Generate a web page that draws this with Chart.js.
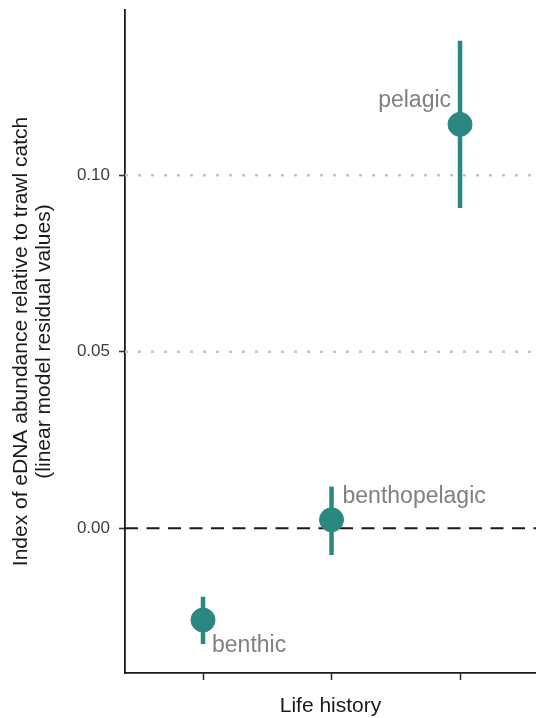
<!DOCTYPE html>
<html>
<head>
<meta charset="utf-8">
<script src="https://cdn.jsdelivr.net/npm/chart.js@4"></script>
<style>
  body { margin: 0; background: #fff; }
  canvas { display: block; }
</style>
</head>
<body>
<canvas id="grafico" width="536" height="718"></canvas>
<script>
const lifeHistory = ['benthic', 'benthopelagic', 'pelagic'];
const estimate = [-0.0260, 0.0024, 0.1144];
const lower = [-0.0328, -0.0076, 0.0907];
const upper = [-0.0194, 0.0118, 0.1381];
const yTicks = [0.00, 0.05, 0.10];

const teal = 'rgb(42,135,129)';
const fontFam = '"Liberation Sans", Arial, sans-serif';

// pixel offsets for the text next to each point
const labelPos = {
    benthic: { dx: 9, dy: 32, align: 'left' },
    benthopelagic: { dx: 11, dy: -17, align: 'left' },
    pelagic: { dx: -9, dy: -17, align: 'right' }
};

// reference lines + error bars under the points
const extras = {
    id: 'extras',
    beforeDatasetsDraw(chart) {
        const { ctx, chartArea: a, scales: { x, y } } = chart;
        ctx.save();
        yTicks.forEach(v => {
            const py = y.getPixelForValue(v);
            ctx.beginPath();
            if (v === 0) {
                ctx.setLineDash([13, 8.5]);
                ctx.strokeStyle = '#1a1a1a';
                ctx.lineWidth = 2.2;
            } else {
                ctx.setLineDash([3, 10]);
                ctx.strokeStyle = '#c4c4c4';
                ctx.lineWidth = 2.5;
            }
            ctx.moveTo(a.left, py);
            ctx.lineTo(a.right, py);
            ctx.stroke();
        });
        ctx.setLineDash([]);
        ctx.strokeStyle = teal;
        ctx.lineWidth = 4.5;
        lifeHistory.forEach((c, i) => {
            const px = x.getPixelForValue(i + 1);
            ctx.beginPath();
            ctx.moveTo(px, y.getPixelForValue(lower[i]));
            ctx.lineTo(px, y.getPixelForValue(upper[i]));
            ctx.stroke();
        });
        ctx.restore();
    },
    afterDatasetsDraw(chart) {
        const { ctx, scales: { x, y } } = chart;
        ctx.save();
        ctx.font = '23px ' + fontFam;
        ctx.fillStyle = '#808080';
        ctx.textBaseline = 'alphabetic';
        lifeHistory.forEach((c, i) => {
            const p = labelPos[c];
            ctx.textAlign = p.align;
            ctx.fillText(c, x.getPixelForValue(i + 1) + p.dx, y.getPixelForValue(estimate[i]) + p.dy);
        });
        ctx.restore();
    }
};

new Chart(document.getElementById('grafico'), {
    type: 'scatter',
    data: {
        datasets: [{
            data: lifeHistory.map((c, i) => ({ x: i + 1, y: estimate[i] })),
            backgroundColor: teal,
            borderColor: teal,
            pointRadius: 12,
            pointHoverRadius: 12
        }]
    },
    options: {
        responsive: false,
        animation: false,
        layout: { autoPadding: false, padding: { top: 10, right: 0, bottom: 0, left: 0 } },
        plugins: { legend: { display: false }, tooltip: { enabled: false } },
        scales: {
            x: {
                type: 'linear',
                min: 0.393,
                max: 3.591,
                afterBuildTicks: s => { s.ticks = [1, 2, 3].map(v => ({ value: v })); },
                afterFit: s => { s.height = 45; s.paddingLeft = 0; s.paddingRight = 0; },
                ticks: { callback: () => '', padding: 0 },
                grid: { drawOnChartArea: false, tickLength: 7, tickWidth: 1.6, tickColor: '#333' },
                border: { color: '#1a1a1a', width: 1.8 },
                title: {
                    display: true,
                    text: 'Life history',
                    color: '#1a1a1a',
                    font: { family: fontFam, size: 21, lineHeight: 1.1 },
                    padding: { top: 0, bottom: 0.5 }
                }
            },
            y: {
                min: -0.041,
                max: 0.1468,
                afterBuildTicks: s => { s.ticks = yTicks.map(v => ({ value: v })); },
                afterFit: s => { s.width = 125; s.paddingTop = 0; s.paddingBottom = 0; },
                ticks: {
                    callback: v => v.toFixed(2),
                    color: '#3d3d3d',
                    font: { family: fontFam, size: 17 },
                    padding: 9
                },
                grid: { drawOnChartArea: false, tickLength: 6, tickWidth: 1.6, tickColor: '#333' },
                border: { color: '#1a1a1a', width: 1.8 },
                title: {
                    display: true,
                    text: ['Index of eDNA abundance relative to trawl catch', '(linear model residual values)'],
                    color: '#1a1a1a',
                    font: { family: fontFam, size: 21, lineHeight: 1.1 },
                    padding: { top: 10, bottom: 0 }
                }
            }
        }
    },
    plugins: [extras]
});
</script>
</body>
</html>
